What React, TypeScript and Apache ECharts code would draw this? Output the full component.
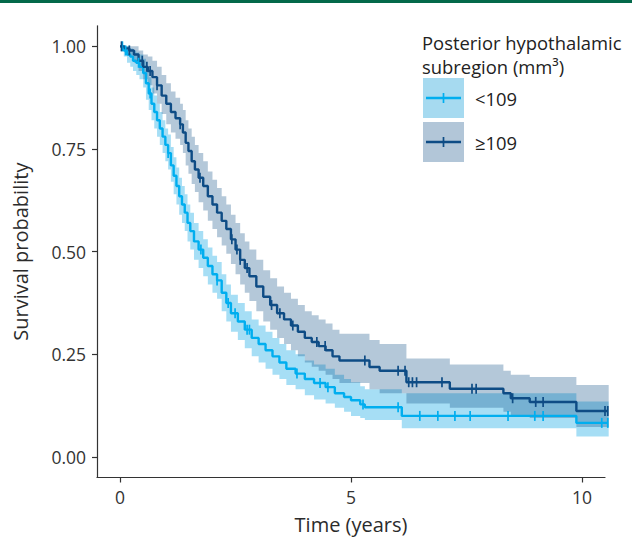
import { useEffect, useRef } from "react";
import * as echarts from "echarts";

// ---------- data ----------
// group "<109"
const timesLow = [0, 0.08, 0.15, 0.22, 0.28, 0.35, 0.42, 0.5, 0.56, 0.62, 0.68, 0.74, 0.8, 0.86, 0.92, 0.98, 1.04, 1.1, 1.16, 1.22, 1.28, 1.34, 1.4, 1.46, 1.52, 1.6, 1.7, 1.8, 1.9, 2.0, 2.1, 2.2, 2.3, 2.4, 2.55, 2.7, 2.85, 3.0, 3.15, 3.3, 3.45, 3.6, 3.8, 4.0, 4.2, 4.45, 4.65, 4.85, 5.0, 5.2, 5.3, 6.1, 9.88, 10.58];
const survLow = [1.0, 0.99, 0.98, 0.975, 0.965, 0.96, 0.95, 0.935, 0.91, 0.885, 0.86, 0.84, 0.82, 0.8, 0.78, 0.76, 0.74, 0.71, 0.685, 0.66, 0.635, 0.615, 0.595, 0.57, 0.55, 0.525, 0.505, 0.485, 0.465, 0.445, 0.43, 0.4, 0.375, 0.35, 0.33, 0.31, 0.29, 0.275, 0.26, 0.245, 0.23, 0.215, 0.203, 0.19, 0.18, 0.17, 0.155, 0.146, 0.138, 0.128, 0.121, 0.1, 0.083, 0.083];
const lowerLow = [1.0, 0.975, 0.96, 0.95, 0.94, 0.93, 0.92, 0.9, 0.87, 0.845, 0.82, 0.8, 0.78, 0.76, 0.74, 0.72, 0.7, 0.67, 0.64, 0.615, 0.59, 0.57, 0.55, 0.525, 0.505, 0.48, 0.46, 0.44, 0.42, 0.4, 0.385, 0.355, 0.33, 0.305, 0.285, 0.265, 0.245, 0.23, 0.215, 0.2, 0.19, 0.175, 0.165, 0.15, 0.14, 0.13, 0.12, 0.11, 0.1, 0.095, 0.09, 0.07, 0.05, 0.05];
const upperLow = [1.0, 1.0, 1.0, 0.995, 0.99, 0.985, 0.98, 0.97, 0.95, 0.925, 0.9, 0.88, 0.86, 0.84, 0.82, 0.8, 0.785, 0.755, 0.73, 0.705, 0.68, 0.66, 0.64, 0.615, 0.595, 0.57, 0.55, 0.53, 0.51, 0.49, 0.475, 0.445, 0.42, 0.395, 0.375, 0.355, 0.335, 0.32, 0.305, 0.29, 0.275, 0.26, 0.25, 0.235, 0.225, 0.215, 0.2, 0.19, 0.182, 0.172, 0.165, 0.155, 0.135, 0.135];
const censorLow = [0.05, 0.12, 0.4, 0.65, 1.04, 1.75, 2.1, 2.34, 2.49, 2.75, 2.8, 3.83, 4.33, 4.5, 5.26, 6.02, 6.49, 6.88, 7.25, 7.58, 8.4, 8.98, 9.16, 10.43, 10.56];

// group "≥109"
const timesHigh = [0, 0.1, 0.2, 0.3, 0.4, 0.5, 0.6, 0.7, 0.8, 0.9, 1.0, 1.1, 1.2, 1.3, 1.36, 1.42, 1.48, 1.55, 1.62, 1.7, 1.8, 1.9, 2.0, 2.1, 2.2, 2.3, 2.4, 2.5, 2.6, 2.7, 2.8, 2.95, 3.1, 3.25, 3.4, 3.55, 3.7, 3.85, 4.0, 4.15, 4.3, 4.45, 4.6, 4.75, 5.4, 5.62, 6.2, 7.14, 8.3, 8.46, 8.87, 9.88, 10.58];
const survHigh = [1.0, 0.995, 0.99, 0.98, 0.965, 0.95, 0.94, 0.925, 0.905, 0.88, 0.86, 0.84, 0.825, 0.81, 0.79, 0.765, 0.745, 0.72, 0.7, 0.68, 0.66, 0.635, 0.615, 0.595, 0.575, 0.555, 0.53, 0.505, 0.48, 0.46, 0.44, 0.415, 0.39, 0.37, 0.35, 0.335, 0.32, 0.305, 0.29, 0.28, 0.27, 0.26, 0.245, 0.235, 0.219, 0.21, 0.182, 0.166, 0.155, 0.143, 0.134, 0.112, 0.112];
const lowerHigh = [1.0, 0.985, 0.975, 0.96, 0.94, 0.92, 0.905, 0.885, 0.86, 0.835, 0.81, 0.79, 0.775, 0.76, 0.74, 0.71, 0.69, 0.665, 0.645, 0.62, 0.6, 0.575, 0.555, 0.535, 0.515, 0.495, 0.47, 0.445, 0.42, 0.4, 0.38, 0.355, 0.33, 0.31, 0.29, 0.275, 0.26, 0.245, 0.23, 0.22, 0.21, 0.2, 0.19, 0.18, 0.165, 0.155, 0.13, 0.12, 0.11, 0.1, 0.095, 0.073, 0.073];
const upperHigh = [1.0, 1.0, 1.0, 1.0, 0.99, 0.98, 0.975, 0.965, 0.95, 0.93, 0.91, 0.89, 0.875, 0.86, 0.845, 0.82, 0.8, 0.78, 0.76, 0.74, 0.72, 0.695, 0.675, 0.655, 0.635, 0.615, 0.59, 0.57, 0.545, 0.525, 0.505, 0.48, 0.455, 0.435, 0.415, 0.4, 0.385, 0.37, 0.355, 0.345, 0.335, 0.325, 0.31, 0.3, 0.285, 0.275, 0.24, 0.225, 0.21, 0.2, 0.195, 0.175, 0.175];
const censorHigh = [0.03, 0.2, 0.48, 0.58, 0.65, 0.8, 1.3, 1.73, 2.42, 2.53, 2.6, 2.75, 3.28, 3.46, 3.74, 4.26, 4.44, 5.3, 6.02, 6.17, 6.25, 6.33, 6.42, 6.97, 7.62, 7.71, 8.5, 9.0, 9.16, 10.5, 10.56];

const groupNames = ["<109", "≥109"];
const xTicks = [0, 5, 10];
const yTicks = [0, 0.25, 0.5, 0.75, 1.0];

// ---------- styles ----------
const FONT = "Open Sans";
const lineLow = "#00aeef";
const lineHigh = "#0e4c85";
const bandLow = "rgba(0, 160, 225, 0.35)";
const bandHigh = "rgba(14, 76, 133, 0.31)";
const keyLow = "#a6daf0";
const keyHigh = "#b2c6d8";

function stepValue(times: number[], surv: number[], t: number) {
  let v = surv[0];
  for (let i = 0; i < times.length; i++) {
    if (times[i] <= t) v = surv[i];
  }
  return v;
}

function bandSeries(times: number[], lo: number[], hi: number[], color: string) {
  const data = times.map((t, i) => [t, lo[i], hi[i]]);
  return {
    type: "custom",
    coordinateSystem: "cartesian2d",
    clip: false,
    silent: true,
    z: 1,
    data,
    encode: { x: 0, y: [1, 2] },
    renderItem: (params: any, api: any) => {
      if (params.dataIndex !== 0) return null;
      const top: number[][] = [];
      const bot: number[][] = [];
      for (let i = 0; i < data.length; i++) {
        const [t, l, h] = data[i];
        const tn = i + 1 < data.length ? data[i + 1][0] : t;
        top.push(api.coord([t, h]), api.coord([tn, h]));
        bot.push(api.coord([t, l]), api.coord([tn, l]));
      }
      const points = top.concat(bot.reverse());
      return { type: "polygon", shape: { points }, style: { fill: color } };
    },
  };
}

function lineSeries(name: string, times: number[], surv: number[], color: string) {
  return {
    name,
    type: "line",
    step: "end",
    clip: false,
    showSymbol: false,
    symbol: "none",
    z: 3,
    data: times.map((t, i) => [t, surv[i]]),
    lineStyle: { color, width: 2.4 },
    itemStyle: { color },
  };
}

function censorSeries(times: number[], surv: number[], censor: number[], color: string) {
  return {
    type: "scatter",
    clip: false,
    silent: true,
    z: 4,
    symbol: "rect",
    symbolSize: [1.7, 10],
    data: censor.map((t) => [t, stepValue(times, surv, t)]),
    itemStyle: { color, opacity: 1 },
  };
}

export default function App() {
  const ref = useRef<HTMLDivElement>(null);

  useEffect(() => {
    if (!ref.current) return;
    const chart = echarts.init(ref.current, undefined, { renderer: "svg" });
    const legendFont = `18.4px "${FONT}"`;
    const option: any = {
      animation: false,
      backgroundColor: "#ffffff",
      textStyle: { fontFamily: FONT },
      grid: { left: 97, right: 27, top: 25.8, bottom: 62.5, containLabel: false, outerBoundsMode: "none" },
      xAxis: {
        type: "value",
        min: -0.5,
        max: 10.5,
        name: "Time (years)",
        nameLocation: "middle",
        nameGap: 37,
        nameTextStyle: { fontFamily: FONT, fontSize: 20, color: "#2b2b2b" },
        axisLine: { show: true, onZero: false, lineStyle: { color: "#333", width: 1.2 } },
        axisTick: { show: true, length: 5, lineStyle: { color: "#333", width: 1.2 }, customValues: xTicks },
        axisLabel: { fontFamily: FONT, fontSize: 17.5, color: "#333", margin: 10, customValues: xTicks, formatter: (v: number) => String(v) },
        splitLine: { show: false },
      },
      yAxis: {
        type: "value",
        min: -0.05,
        max: 1.05,
        name: "Survival probability",
        nameLocation: "middle",
        nameGap: 67,
        nameTextStyle: { fontFamily: FONT, fontSize: 20, color: "#2b2b2b" },
        axisLine: { show: true, onZero: false, lineStyle: { color: "#333", width: 1.2 } },
        axisTick: { show: true, length: 5, lineStyle: { color: "#333", width: 1.2 }, customValues: yTicks },
        axisLabel: { fontFamily: FONT, fontSize: 17.5, color: "#333", margin: 11, customValues: yTicks, formatter: (v: number) => v.toFixed(2) },
        splitLine: { show: false },
      },
      series: [
        bandSeries(timesLow, lowerLow, upperLow, bandLow),
        bandSeries(timesHigh, lowerHigh, upperHigh, bandHigh),
        lineSeries(groupNames[0], timesLow, survLow, lineLow),
        lineSeries(groupNames[1], timesHigh, survHigh, lineHigh),
        censorSeries(timesLow, survLow, censorLow, lineLow),
        censorSeries(timesHigh, survHigh, censorHigh, lineHigh),
      ],
      graphic: [
        { type: "rect", left: 0, top: 0, shape: { width: 632, height: 3 }, style: { fill: "#04694a" }, silent: true },
        { type: "text", x: 422, y: 42, style: { text: "Posterior hypothalamic", font: legendFont, fill: "#222", textVerticalAlign: "middle" } },
        { type: "text", x: 422, y: 66, style: { text: "subregion (mm³)", font: legendFont, fill: "#222", textVerticalAlign: "middle" } },
        { type: "rect", shape: { x: 423, y: 78, width: 41, height: 40 }, style: { fill: keyLow } },
        { type: "line", shape: { x1: 426, y1: 98, x2: 461, y2: 98 }, style: { stroke: lineLow, lineWidth: 2.4 } },
        { type: "line", shape: { x1: 443.5, y1: 93, x2: 443.5, y2: 103 }, style: { stroke: lineLow, lineWidth: 1.7 } },
        { type: "text", x: 475, y: 98, style: { text: groupNames[0], font: legendFont, fill: "#222", textVerticalAlign: "middle" } },
        { type: "rect", shape: { x: 423, y: 122, width: 41, height: 40 }, style: { fill: keyHigh } },
        { type: "line", shape: { x1: 426, y1: 142, x2: 461, y2: 142 }, style: { stroke: lineHigh, lineWidth: 2.4 } },
        { type: "line", shape: { x1: 443.5, y1: 137, x2: 443.5, y2: 147 }, style: { stroke: lineHigh, lineWidth: 1.7 } },
        { type: "text", x: 475, y: 142, style: { text: groupNames[1], font: legendFont, fill: "#222", textVerticalAlign: "middle" } },
      ],
    };
    chart.setOption(option);
    return () => chart.dispose();
  }, []);

  return (
    <div
      ref={ref}
      style={{ position: "fixed", left: 0, top: 0, width: 632, height: 540, background: "#fff" }}
    />
  );
}
